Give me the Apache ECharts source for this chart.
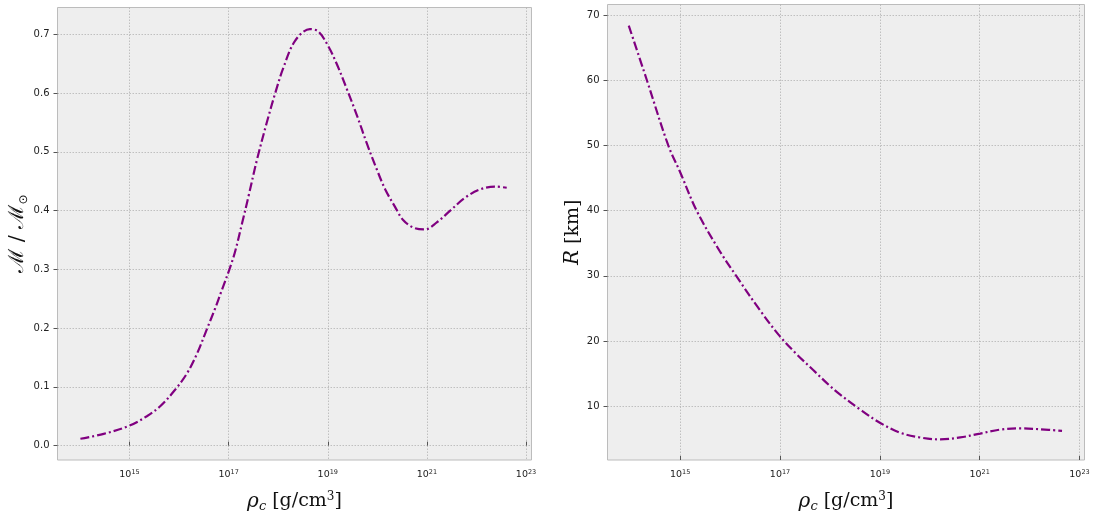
<!DOCTYPE html>
<html><head><meta charset="utf-8">
<script src="https://cdn.jsdelivr.net/npm/echarts@6/dist/echarts.min.js"></script>
<style>html,body{margin:0;padding:0;background:#fff}#c{width:1096px;height:518px}</style>
</head><body><div id="c"></div>
<script>
// log10 of central density [g/cm^3] and mass [M/Msun]
const massLogRho = [14.01, 14.48, 15.0, 15.35, 15.62, 15.92, 16.16, 16.36, 16.56, 16.73, 16.86, 17.02, 17.13, 17.27, 17.40, 17.57, 17.77, 17.94, 18.10, 18.34, 18.64, 18.81, 19.01, 19.18, 19.38, 19.58, 19.79, 19.99, 20.16, 20.36, 20.52, 20.73, 20.96, 21.20, 21.47, 21.77, 22.07, 22.37, 22.61];
const massVals   = [0.0117, 0.020, 0.034, 0.050, 0.067, 0.095, 0.123, 0.156, 0.198, 0.234, 0.264, 0.301, 0.330, 0.378, 0.424, 0.486, 0.550, 0.600, 0.642, 0.689, 0.709, 0.705, 0.680, 0.650, 0.608, 0.564, 0.514, 0.470, 0.436, 0.406, 0.384, 0.371, 0.368, 0.380, 0.400, 0.422, 0.436, 0.441, 0.439];
// log10 of central density and radius [km]
const radLogRho = [13.97, 14.33, 14.76, 15.0, 15.33, 15.76, 16.13, 16.6, 17.0, 17.33, 17.67, 18.0, 18.2, 18.6, 19.0, 19.4, 19.8, 20.21, 20.61, 21.01, 21.41, 21.81, 22.21, 22.65];
const radVals   = [68.4, 60.1, 50.05, 45.9, 40.0, 34.2, 29.9, 24.7, 20.7, 18.0, 15.5, 13.1, 11.8, 9.5, 7.45, 5.94, 5.19, 4.89, 5.19, 5.79, 6.39, 6.6, 6.45, 6.2];
const xTicks = [15, 17, 19, 21, 23];
const massTicks = [0, 0.1, 0.2, 0.3, 0.4, 0.5, 0.6, 0.7];
const radTicks = [10, 20, 30, 40, 50, 60, 70];

const chart = echarts.init(document.getElementById('c'));
const gridStyle = {show: true, backgroundColor: '#eeeeee', borderColor: '#bcbcbc', borderWidth: 1};
const splitLine = {show: true, lineStyle: {color: '#b2b2b2', type: [1.5, 1.5], width: 0.8}};
const tickFont = {fontFamily: 'DejaVu Sans', color: '#222'};
function xAxis(gi, min, max) {
  return {
    type: 'value', gridIndex: gi, min: min, max: max,
    axisLine: {show: false},
    axisTick: {show: true, inside: true, length: 4, lineStyle: {color: '#555'}, customValues: xTicks},
    axisLabel: {customValues: xTicks, margin: 9, formatter: v => '{b|10}{s|' + v + '}',
      rich: {b: Object.assign({fontSize: 9.5}, tickFont), s: Object.assign({fontSize: 6.5, verticalAlign: 'top', padding: [0,0,5,0]}, tickFont)}},
    splitLine: splitLine,
    name: '{r|ρ}{sub|c}{n| [g/cm}{sup|3}{n|]}', nameLocation: 'middle', nameGap: 30,
    nameTextStyle: {rich: {
      r: {fontFamily: 'DejaVu Serif', fontStyle: 'italic', fontSize: 20, color: '#111'},
      sub: {fontFamily: 'DejaVu Serif', fontStyle: 'italic', fontSize: 13, color: '#111', padding: [10,0,0,0]},
      n: {fontFamily: 'DejaVu Serif', fontSize: 19, color: '#111'},
      sup: {fontFamily: 'DejaVu Serif', fontSize: 12, color: '#111', padding: [0,0,10,0]}
    }}
  };
}
const lineStyle = {color: '#800080', width: 2.2, type: [9, 3, 2, 3]};
chart.setOption({
  animation: false,
  grid: [
    Object.assign({left: 57.5, top: 7.5, right: 564.5, bottom: 48}, gridStyle),
    Object.assign({left: 607.5, top: 4.5, right: 11.5, bottom: 48.5}, gridStyle)
  ],
  xAxis: [xAxis(0, 13.548, 23.11), xAxis(1, 13.544, 23.10)],
  yAxis: [
    {type: 'value', gridIndex: 0, min: -0.0245, max: 0.7458,
     axisLine: {show: false},
     axisTick: {show: true, length: 4, lineStyle: {color: '#555'}, customValues: massTicks},
     axisLabel: Object.assign({customValues: massTicks, fontSize: 10, margin: 8, formatter: v => v.toFixed(1)}, tickFont),
     splitLine: splitLine,
     name: '{m|ℳ / ℳ}{o|⊙}', nameLocation: 'middle', nameGap: 24, nameRotate: 90,
     nameTextStyle: {rich: {
       m: {fontFamily: 'DejaVu Serif', fontSize: 21, color: '#111'},
       o: {fontFamily: 'DejaVu Sans', fontSize: 12, color: '#111', padding: [12,0,0,0]}
     }}},
    {type: 'value', gridIndex: 1, min: 1.73, max: 71.65,
     axisLine: {show: false},
     axisTick: {show: true, length: 4, lineStyle: {color: '#555'}, customValues: radTicks},
     axisLabel: Object.assign({customValues: radTicks, fontSize: 10, margin: 8}, tickFont),
     splitLine: splitLine,
     name: '{r|R}{n| [km]}', nameLocation: 'middle', nameGap: 24, nameRotate: 90,
     nameTextStyle: {rich: {
       r: {fontFamily: 'DejaVu Serif', fontStyle: 'italic', fontSize: 20, color: '#111'},
       n: {fontFamily: 'DejaVu Serif', fontSize: 19, color: '#111'}
     }}}
  ],
  series: [
    {type: 'line', xAxisIndex: 0, yAxisIndex: 0, data: massLogRho.map((x, i) => [x, massVals[i]]),
     smooth: 0.35, symbol: 'none', lineStyle: lineStyle},
    {type: 'line', xAxisIndex: 1, yAxisIndex: 1, data: radLogRho.map((x, i) => [x, radVals[i]]),
     smooth: 0.35, symbol: 'none', lineStyle: lineStyle}
  ]
});
</script></body></html>
